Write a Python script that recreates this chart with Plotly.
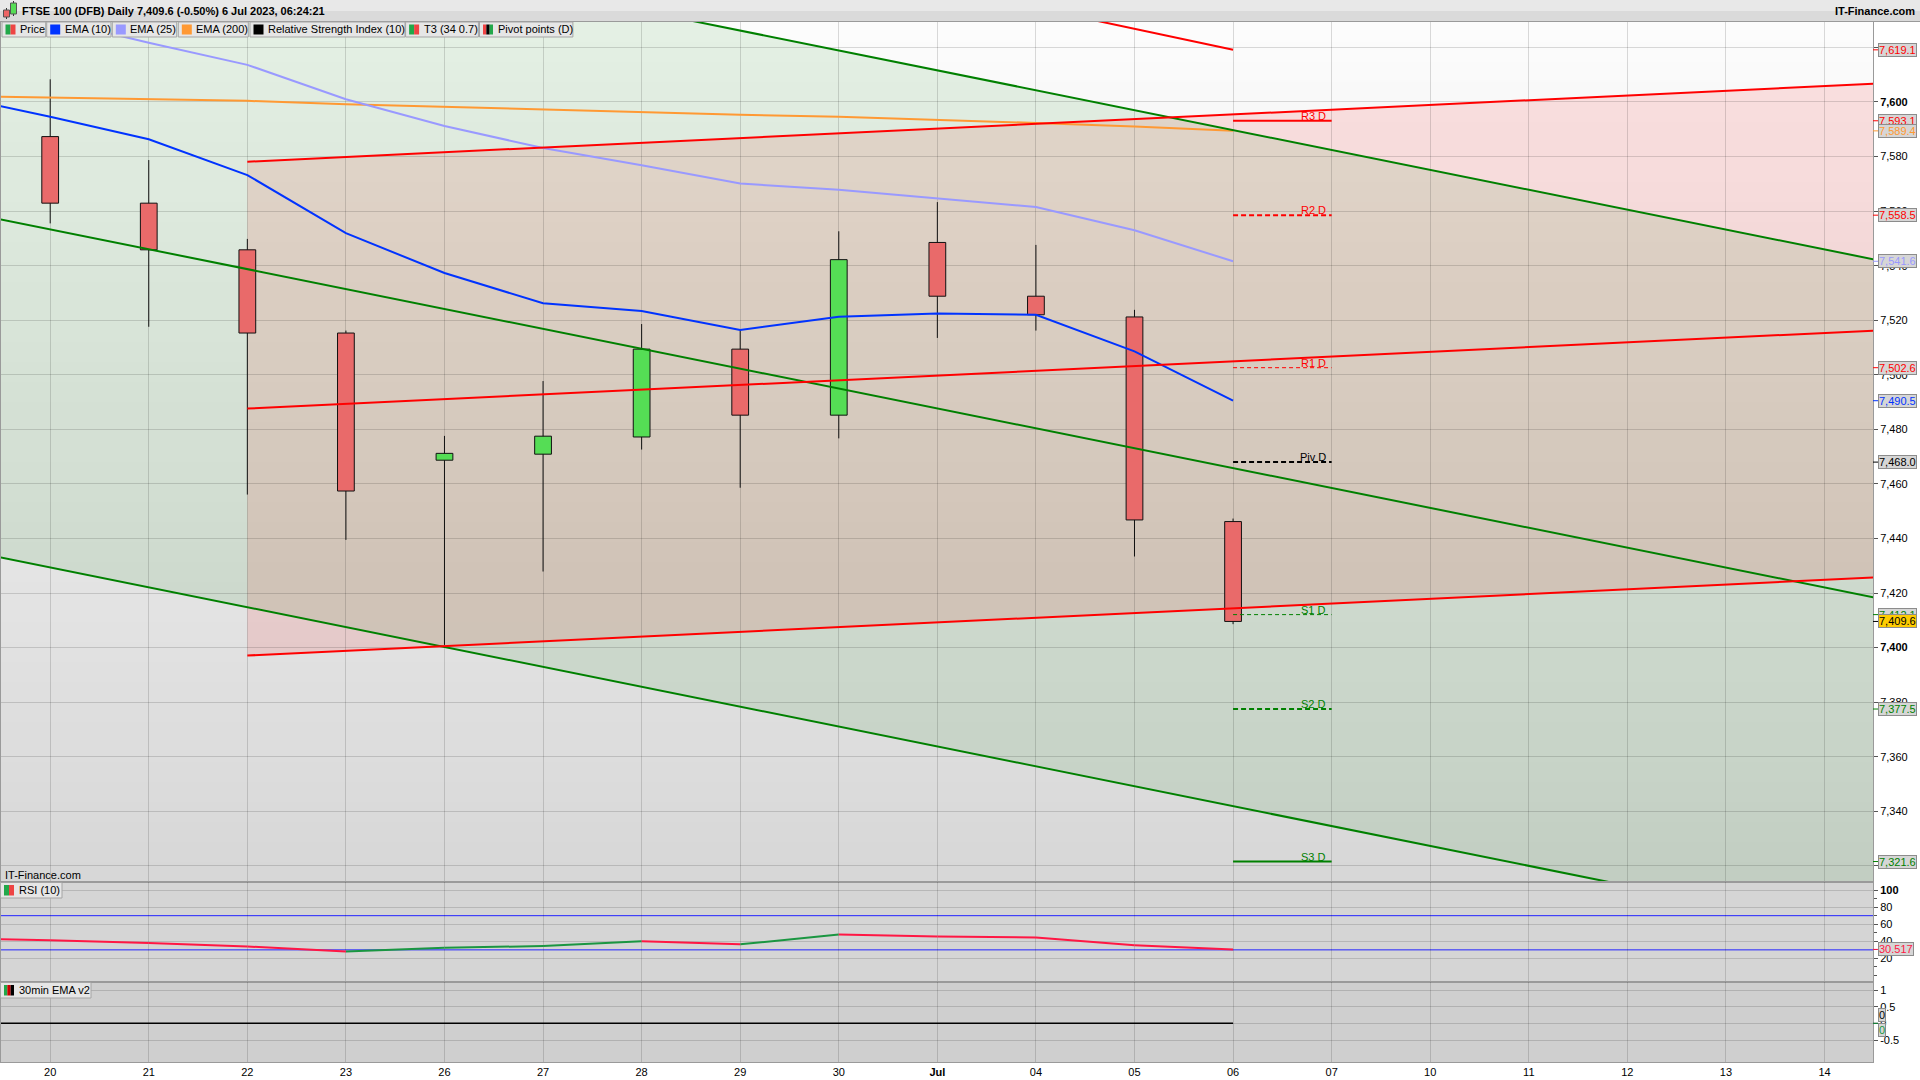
import plotly.graph_objects as go
from plotly.subplots import make_subplots

# ---------------- data ----------------
day_labels = ["20", "21", "22", "23", "26", "27", "28", "29", "30", "Jul",
              "04", "05", "06", "07", "10", "11", "12", "13", "14"]

# daily candles (index 0 .. 12)
opens  = [7587.3, 7562.9, 7545.8, 7515.3, 7468.7, 7470.9, 7477.2, 7509.4, 7485.2, 7548.5, 7528.8, 7521.2, 7446.2]
highs  = [7608.3, 7578.7, 7549.8, 7516.2, 7477.6, 7497.7, 7518.6, 7516.2, 7552.6, 7563.3, 7547.6, 7523.8, 7447.3]
lows   = [7555.5, 7517.6, 7456.1, 7439.5, 7401.0, 7427.9, 7472.6, 7458.6, 7476.7, 7513.5, 7516.2, 7433.4, 7408.6]
closes = [7562.9, 7545.8, 7515.3, 7457.4, 7471.2, 7477.5, 7509.4, 7485.2, 7542.2, 7528.8, 7522.0, 7446.8, 7409.6]

# indicator lines (index -1 .. 12, -1 = previous day off-screen)
line_idx = [-1, 0, 1, 2, 3, 4, 5, 6, 7, 8, 9, 10, 11, 12]
ema10  = [7602.3, 7594.6, 7586.3, 7573.2, 7551.9, 7537.3, 7526.2, 7523.4, 7516.4, 7521.3, 7522.5, 7522.0, 7508.6, 7490.5]
ema25  = [7639.0, 7630.3, 7621.7, 7613.6, 7601.0, 7591.2, 7583.1, 7576.8, 7570.1, 7567.8, 7564.7, 7561.5, 7553.0, 7541.6]
ema200 = [7602.2, 7601.6, 7601.0, 7600.4, 7599.2, 7598.2, 7597.3, 7596.4, 7595.3, 7594.6, 7593.5, 7592.3, 7591.0, 7589.4]
rsi    = [43.5, 41.3, 38.0, 34.0, 28.0, 32.5, 34.5, 40.0, 36.5, 48.0, 45.5, 44.5, 35.5, 30.517]
ema30m = [0, 0, 0, 0, 0, 0, 0, 0, 0, 0, 0, 0, 0, 0]

t3_idx = [9, 10, 11, 12]
t3_vals = [7642.2, 7634.5, 7626.8, 7619.1]

# trend channels: end points (index, value)
green_ch_idx = [-1, 18.5]
green_ch_top = [7684.5, 7542.3]
green_ch_mid = [7560.6, 7418.4]
green_ch_bot = [7436.7, 7294.5]

red_ch_idx = [2, 18.5]
red_ch_top = [7578.1, 7606.7]
red_ch_mid = [7487.6, 7516.2]
red_ch_bot = [7397.1, 7425.7]

# daily pivot points
pivot_idx = [12, 13]
pivot_names = ["R3 D", "R2 D", "R1 D", "Piv D", "S1 D", "S2 D", "S3 D"]
pivot_vals = [7593.1, 7558.5, 7502.6, 7468.0, 7412.1, 7377.5, 7321.6]

rsi_levels = [70, 30]

price_ticks = [7320, 7340, 7360, 7380, 7400, 7420, 7440, 7460, 7480, 7500,
               7520, 7540, 7560, 7580, 7600, 7620]
hidden_price_labels = [7320, 7620]
rsi_ticks = [20, 40, 60, 80, 100]
ema_ticks = [-0.5, 0, 0.5, 1]

legend_names = ["Price", "EMA (10)", "EMA (25)", "EMA (200)", "Relative Strength Index (10)",
                "T3 (34 0.7)", "Pivot points (D)"]

# ---------------- styling ----------------
FONT = "Liberation Sans, Arial, sans-serif"
RED = "#ff0000"
GREEN = "#008000"
BLUE = "#0033ff"
PURPLE = "#9999ff"
ORANGE = "#ff9933"
ICON_G = "#22a84a"
ICON_R = "#ee4444"
GRID = "rgba(0,0,0,0.14)"
W, H = 1920, 1080
ML, MR, MT, MB = 1, 47, 22, 18
PW, PH = W - ML - MR, H - MT - MB

XR = [-0.499, 18.492]
YR_MAIN = [7314.1, 7629.3]
YR_RSI = [-7.6, 109.4]
YR_EMA = [-1.16, 1.24]


def px_x(px):
    return (px - ML) / PW


def px_y(py):
    return (H - MB - py) / PH


fig = make_subplots(rows=3, cols=1, shared_xaxes=True, vertical_spacing=0,
                    row_heights=[860, 100, 80])

# ---- candle bodies ----
for up, fillc in [(True, "#55dd55"), (False, "#e96a6a")]:
    xs, hs, bs = [], [], []
    for i in range(len(opens)):
        if (closes[i] >= opens[i]) == up:
            xs.append(i)
            hs.append(abs(closes[i] - opens[i]))
            bs.append(min(opens[i], closes[i]))
    fig.add_trace(go.Bar(x=xs, y=hs, base=bs, width=0.17,
                         marker=dict(color=fillc, line=dict(color="#111111", width=1)),
                         hoverinfo="skip", showlegend=False), row=1, col=1)

# ---- wicks ----
wx, wy = [], []
for i in range(len(opens)):
    top = max(opens[i], closes[i])
    bot = min(opens[i], closes[i])
    wx += [i, i, None, i, i, None]
    wy += [highs[i], top, None, bot, lows[i], None]
fig.add_trace(go.Scatter(x=wx, y=wy, mode="lines", line=dict(color="#111111", width=1),
                         hoverinfo="skip", showlegend=False), row=1, col=1)

# ---- moving averages ----
for vals, col in [(ema200, ORANGE), (ema25, PURPLE), (ema10, BLUE)]:
    fig.add_trace(go.Scatter(x=line_idx, y=vals, mode="lines", line=dict(color=col, width=2),
                             hoverinfo="skip", showlegend=False), row=1, col=1)

# ---- channel lines ----
for vals in [green_ch_top, green_ch_mid, green_ch_bot]:
    fig.add_trace(go.Scatter(x=green_ch_idx, y=vals, mode="lines", line=dict(color=GREEN, width=2),
                             hoverinfo="skip", showlegend=False), row=1, col=1)
for vals in [red_ch_top, red_ch_mid, red_ch_bot]:
    fig.add_trace(go.Scatter(x=red_ch_idx, y=vals, mode="lines", line=dict(color=RED, width=2),
                             hoverinfo="skip", showlegend=False), row=1, col=1)

# ---- T3 ----
fig.add_trace(go.Scatter(x=t3_idx, y=t3_vals, mode="lines", line=dict(color=RED, width=2),
                         hoverinfo="skip", showlegend=False), row=1, col=1)

annotations = []

# ---- pivot lines ----
pivot_styles = {
    "R3 D": (RED, 2, "solid"), "R2 D": (RED, 2, "5px,3px"), "R1 D": (RED, 1, "4px,3px"),
    "Piv D": ("#000000", 2, "5px,3px"),
    "S1 D": (GREEN, 1, "4px,3px"), "S2 D": (GREEN, 2, "5px,3px"), "S3 D": (GREEN, 2, "solid"),
}
for name, val in zip(pivot_names, pivot_vals):
    col, wd, dash = pivot_styles[name]
    fig.add_trace(go.Scatter(x=pivot_idx, y=[val, val], mode="lines",
                             line=dict(color=col, width=wd, dash=dash),
                             hoverinfo="skip", showlegend=False), row=1, col=1)
    annotations.append(dict(x=pivot_idx[1], y=val, xref="x", yref="y", text=name, showarrow=False,
                            xanchor="right", yanchor="bottom", xshift=-4, yshift=-3,
                            font=dict(family=FONT, size=11, color=col)))

# ---- RSI ----
gx, gy, rx, ry = [], [], [], []
for i in range(1, len(rsi)):
    if rsi[i] >= rsi[i - 1]:
        gx += [line_idx[i - 1], line_idx[i], None]
        gy += [rsi[i - 1], rsi[i], None]
    else:
        rx += [line_idx[i - 1], line_idx[i], None]
        ry += [rsi[i - 1], rsi[i], None]
fig.add_trace(go.Scatter(x=gx, y=gy, mode="lines", line=dict(color="#1a9641", width=2),
                         hoverinfo="skip", showlegend=False), row=2, col=1)
fig.add_trace(go.Scatter(x=rx, y=ry, mode="lines", line=dict(color="#ff1744", width=2),
                         hoverinfo="skip", showlegend=False), row=2, col=1)

# ---- 30min EMA ----
fig.add_trace(go.Scatter(x=line_idx, y=ema30m, mode="lines", line=dict(color="#000000", width=1.5),
                         hoverinfo="skip", showlegend=False), row=3, col=1)

shapes = []
# gradient background of price panel
NB = 43
for k in range(NB):
    g = round(215 + (k + 0.5) / NB * 37)
    shapes.append(dict(type="rect", xref="x domain", yref="y domain", x0=0, x1=1,
                       y0=k / NB, y1=(k + 1) / NB, fillcolor=f"rgb({g},{g},{g})",
                       line=dict(width=0), layer="below"))
shapes.append(dict(type="rect", xref="x2 domain", yref="y2 domain", x0=0, x1=1, y0=0, y1=1,
                   fillcolor="#d5d5d5", line=dict(width=0), layer="below"))
shapes.append(dict(type="rect", xref="x3 domain", yref="y3 domain", x0=0, x1=1, y0=0, y1=1,
                   fillcolor="#cfcfcf", line=dict(width=0), layer="below"))


def poly(xs, top, bot):
    return (f"M {xs[0]},{top[0]} L {xs[1]},{top[1]} L {xs[1]},{bot[1]} "
            f"L {xs[0]},{bot[0]} Z")


shapes.append(dict(type="path", xref="x", yref="y", path=poly(red_ch_idx, red_ch_top, red_ch_bot),
                   fillcolor="rgba(255,0,0,0.105)", line=dict(width=0), layer="below"))
shapes.append(dict(type="path", xref="x", yref="y", path=poly(green_ch_idx, green_ch_top, green_ch_bot),
                   fillcolor="rgba(0,128,0,0.095)", line=dict(width=0), layer="below"))

# RSI levels
for lv in rsi_levels:
    shapes.append(dict(type="line", xref="x2 domain", yref="y2", x0=0, x1=1, y0=lv, y1=lv,
                       line=dict(color="#2323ff", width=1), layer="below"))


def prect(x0, x1, y0, y1, fill, line_col=None, lw=1):
    shapes.append(dict(type="rect", xref="paper", yref="paper",
                       x0=px_x(x0), x1=px_x(x1), y0=px_y(y1), y1=px_y(y0),
                       fillcolor=fill, line=dict(color=line_col or fill, width=lw if line_col else 0)))


def pline(x0, x1, y0, y1, col, lw=1):
    shapes.append(dict(type="line", xref="paper", yref="paper",
                       x0=px_x(x0), x1=px_x(x1), y0=px_y(y0), y1=px_y(y1),
                       line=dict(color=col, width=lw)))


# header bar
prect(0, W, 0, 11, "#e8e8e8")
prect(0, W, 11, 21.5, "#dadada")
pline(0, W, 21.5, 21.5, "#9a9a9a")
# header icon
pline(6.5, 6.5, 8, 19, "#333")
prect(3.5, 9.5, 10, 17, "#ee6666", "#555")
pline(13.5, 13.5, 1, 16, "#333")
prect(10.5, 16.5, 3, 14, "#55dd55", "#555")


def txt(x, y, text, size=11, color="#000", anchor="left", **kw):
    annotations.append(dict(xref="paper", yref="paper", x=px_x(x), y=px_y(y), text=text,
                            showarrow=False, xanchor=anchor, yanchor="middle",
                            font=dict(family=FONT, size=size, color=color), **kw))


txt(20, 11, "<b>FTSE 100 (DFB) Daily 7,409.6 (-0.50%) 6 Jul 2023, 06:24:21</b>")
txt(1917, 11, "<b>IT-Finance.com</b>", anchor="right")


def label_box(x0, x1, y0, y1, icon_cols, text):
    prect(x0, x1, y0, y1, "#e6e6e6", "#a5a5a5")
    ix0, ix1 = x0 + 3.5, x0 + 13.5
    n = len(icon_cols)
    for j, c in enumerate(icon_cols):
        prect(ix0 + (ix1 - ix0) * j / n, ix0 + (ix1 - ix0) * (j + 1) / n, y0 + 2.5, y1 - 2.5, c)
    txt(x0 + 16, (y0 + y1) / 2, text)


# legend boxes (pixel extents of the boxes)
legend_boxes = [(2, 45.7), (46.7, 111), (112.3, 176.7), (178.3, 248.3), (250, 405),
                (405.6, 478.4), (479.5, 572.9)]
legend_icons = [[ICON_G, ICON_R], [BLUE], [PURPLE], [ORANGE], ["#000000"],
                [ICON_G, ICON_R], [ICON_R, "#000000", ICON_G]]
for (bx0, bx1), icons, name in zip(legend_boxes, legend_icons, legend_names):
    label_box(bx0, bx1, 22, 37, icons, name)

txt(3, 875, "IT-Finance.com")
label_box(0.5, 62, 882.5, 898, [ICON_G, ICON_R], "RSI (10)")
label_box(0.5, 91, 982.5, 998, [ICON_G, "#cc0000", "#000000"], "30min EMA v2")

# right-hand value boxes
value_boxes = [
    ("y", t3_vals[-1], RED, "#d6d6d6", 0),
    ("y", pivot_vals[0], RED, "#d6d6d6", 0),
    ("y", ema200[-1], ORANGE, "#d6d6d6", 0),
    ("y", pivot_vals[1], RED, "#d6d6d6", 0),
    ("y", ema25[-1], PURPLE, "#d6d6d6", 0),
    ("y", pivot_vals[2], RED, "#d6d6d6", 0),
    ("y", ema10[-1], BLUE, "#d6d6d6", 0),
    ("y", pivot_vals[3], "#000000", "#d6d6d6", 0),
    ("y", pivot_vals[4], GREEN, "#d6d6d6", 0),
    ("y", closes[-1], "#000000", "#ffcc00", 0),
    ("y", pivot_vals[5], GREEN, "#d6d6d6", 0),
    ("y", pivot_vals[6], GREEN, "#d6d6d6", 0),
    ("y2", rsi[-1], "#ff1744", "#d6d6d6", 0),
    ("y3", ema30m[-1], "#000000", "#d6d6d6", 8),
    ("y3", ema30m[-1], "#1a9641", "#d6d6d6", -7),
]
for yref, val, col, bg, ysh in value_boxes:
    if yref == "y2":
        label = f"{val:.3f}"
    elif yref == "y3":
        label = f"{val:g}"
    else:
        label = f"{val:,.1f}"
    annotations.append(dict(xref="paper", yref=yref, x=1, y=val, text=label, showarrow=False,
                            xanchor="left", yanchor="middle", xshift=5, yshift=ysh,
                            bgcolor=bg, bordercolor="#8c8c8c", borderwidth=1, borderpad=0,
                            font=dict(family=FONT, size=11, color=col)))
    shapes.append(dict(type="line", xref="paper", yref=yref, x0=1, x1=1 + 5 / PW, y0=val, y1=val,
                       line=dict(color=col, width=1)))

fig.update_layout(
    width=W, height=H, margin=dict(l=ML, r=MR, t=MT, b=MB),
    paper_bgcolor="#ffffff", plot_bgcolor="#d5d5d5",
    barmode="overlay", showlegend=False,
    font=dict(family=FONT, size=11, color="#000"),
)
fig.layout.shapes = shapes
fig.layout.annotations = annotations

axis_common = dict(showline=True, mirror=True, linecolor="#9a9a9a", linewidth=1, zeroline=False)
for r in (1, 2, 3):
    fig.update_xaxes(row=r, col=1, range=XR, tickmode="array", tickvals=list(range(len(day_labels))),
                     ticktext=[f"<b>{d}</b>" if d == "Jul" else d for d in day_labels],
                     showgrid=True, gridcolor=GRID, gridwidth=1, ticks="",
                     tickfont=dict(family=FONT, size=11, color="#000"), **axis_common)
fig.update_xaxes(row=3, col=1, showticklabels=True)


def price_label(v):
    if v in hidden_price_labels:
        return ""
    if v in (7400, 7600):
        return f"<b>{v:,}</b>"
    return f"{v:,}"


fig.update_yaxes(row=1, col=1, side="right", range=YR_MAIN, tickmode="array", tickvals=price_ticks,
                 ticktext=[price_label(v) for v in price_ticks],
                 showgrid=True, gridcolor=GRID, ticks="outside", ticklen=4, tickcolor="#555",
                 tickfont=dict(family=FONT, size=11, color="#000"), **axis_common)
fig.update_yaxes(row=2, col=1, side="right", range=YR_RSI, tickmode="array", tickvals=rsi_ticks,
                 ticktext=[f"<b>{v}</b>" if v == 100 else str(v) for v in rsi_ticks],
                 showgrid=True, gridcolor=GRID, ticks="outside", ticklen=4, tickcolor="#555",
                 minor=dict(ticks="outside", ticklen=3, dtick=10, tickcolor="#555", showgrid=False),
                 tickfont=dict(family=FONT, size=11, color="#000"), **axis_common)
fig.update_yaxes(row=3, col=1, side="right", range=YR_EMA, tickmode="array", tickvals=ema_ticks,
                 ticktext=[f"{v:g}" for v in ema_ticks],
                 showgrid=True, gridcolor=GRID, ticks="outside", ticklen=4, tickcolor="#555",
                 tickfont=dict(family=FONT, size=11, color="#000"), **axis_common)

fig.write_html("out.html", config={"displayModeBar": False},
               post_script="document.body.style.margin='0px';document.body.style.overflow='hidden';")
